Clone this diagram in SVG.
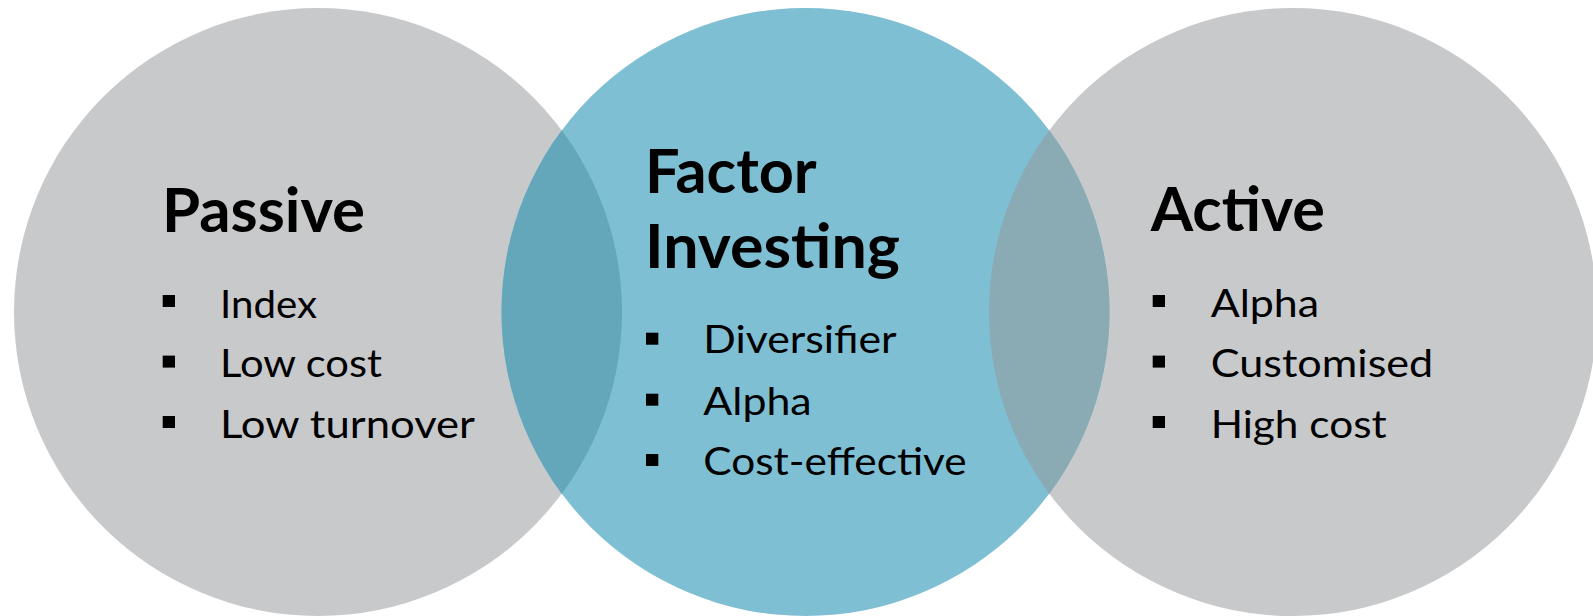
<svg xmlns="http://www.w3.org/2000/svg" width="1593" height="616" viewBox="0 0 1593 616">
  <defs>
    <clipPath id="clipLeft"><circle cx="318" cy="312" r="304"/></clipPath>
    <clipPath id="clipRight"><circle cx="1293" cy="312" r="304"/></clipPath>
    <style>
      .gray { fill: #C8C9CB; }
      .blue { fill: #7FBFD3; }
      .ovL { fill: #64A6BA; }
      .ovR { fill: #8AAAB4; }
      .title { font-family: Lato, "Liberation Sans", sans-serif; font-weight: 700; font-size: 61px; fill: #000; }
      .item { font-family: Lato, "Liberation Sans", sans-serif; font-weight: 400; font-size: 38.8px; fill: #000; }
      .bullet { fill: #000; }
    </style>
  </defs>
  <rect width="1593" height="616" fill="#FFFFFF"/>

  <g id="shapes">
    <circle class="gray" cx="318" cy="312" r="304"/>
    <circle class="gray" cx="1293" cy="312" r="304"/>
    <circle class="blue" cx="805.5" cy="312" r="304"/>
    <circle class="ovL" cx="805.5" cy="312" r="304" clip-path="url(#clipLeft)"/>
    <circle class="ovR" cx="805.5" cy="312" r="304" clip-path="url(#clipRight)"/>
  </g>

  <g id="passive">
    <text class="title" x="162" y="231.7" textLength="203" lengthAdjust="spacingAndGlyphs">Passive</text>
    <rect class="bullet" x="162.7" y="295" width="12.3" height="12"/>
    <text class="item" x="220" y="317.7" textLength="97" lengthAdjust="spacingAndGlyphs">Index</text>
    <rect class="bullet" x="162.7" y="355.6" width="12.3" height="12"/>
    <text class="item" x="220" y="377.3" textLength="162" lengthAdjust="spacingAndGlyphs">Low cost</text>
    <rect class="bullet" x="162.7" y="416" width="12.3" height="12"/>
    <text class="item" x="220" y="437.7" textLength="255" lengthAdjust="spacingAndGlyphs">Low turnover</text>
  </g>

  <g id="factor-investing">
    <text class="title" x="645" y="193.3" textLength="171.7" lengthAdjust="spacingAndGlyphs">Factor</text>
    <text class="title" x="645" y="268.3" textLength="255" lengthAdjust="spacingAndGlyphs">Investing</text>
    <rect class="bullet" x="646" y="332.7" width="12.3" height="12"/>
    <text class="item" x="703.3" y="353.3" textLength="193.4" lengthAdjust="spacingAndGlyphs">Diversifier</text>
    <rect class="bullet" x="646" y="393.7" width="12.3" height="12"/>
    <text class="item" x="703.3" y="415" textLength="108.4" lengthAdjust="spacingAndGlyphs">Alpha</text>
    <rect class="bullet" x="646" y="454" width="12.3" height="12"/>
    <text class="item" x="703.3" y="475" textLength="263.4" lengthAdjust="spacingAndGlyphs">Cost-effective</text>
  </g>

  <g id="active">
    <text class="title" x="1150.7" y="230.7" textLength="174.3" lengthAdjust="spacingAndGlyphs">Active</text>
    <rect class="bullet" x="1152.7" y="295" width="12.3" height="12"/>
    <text class="item" x="1210.7" y="316.7" textLength="108.4" lengthAdjust="spacingAndGlyphs">Alpha</text>
    <rect class="bullet" x="1152.7" y="355.6" width="12.3" height="12"/>
    <text class="item" x="1210.7" y="377.3" textLength="222.6" lengthAdjust="spacingAndGlyphs">Customised</text>
    <rect class="bullet" x="1152.7" y="416" width="12.3" height="12"/>
    <text class="item" x="1210.7" y="437.7" textLength="176" lengthAdjust="spacingAndGlyphs">High cost</text>
  </g>
</svg>
